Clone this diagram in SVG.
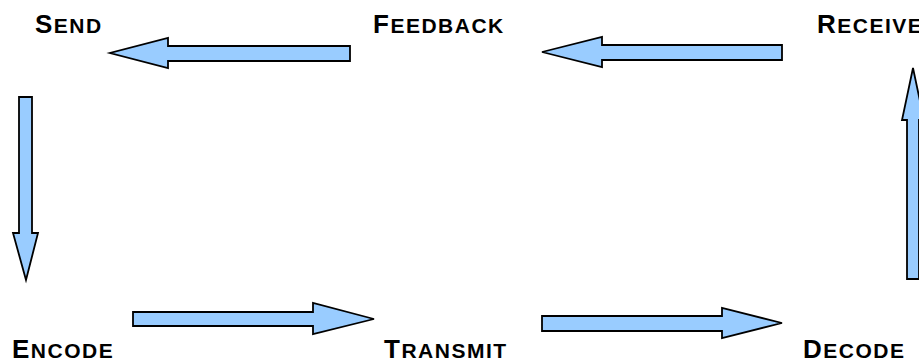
<svg xmlns="http://www.w3.org/2000/svg" width="919" height="363" viewBox="0 0 919 363">
<style>
.arrow{fill:#99ccff;stroke:#000;stroke-width:1.8;stroke-linejoin:miter}
.lbl{font-family:"Liberation Sans",Arial,sans-serif;font-weight:bold;fill:#000;font-size:26px;letter-spacing:1.5px}
.sc{font-size:21px}
</style>
<rect width="919" height="363" fill="#fff"/>
<g id="send"><text class="lbl" x="35" y="33">S<tspan class="sc">END</tspan></text></g>
<g id="feedback"><text class="lbl" x="373" y="33">F<tspan class="sc">EEDBACK</tspan></text></g>
<g id="receive"><text class="lbl" x="817" y="33">R<tspan class="sc">ECEIVE</tspan></text></g>
<g id="encode"><text class="lbl" x="12" y="358">E<tspan class="sc">NCODE</tspan></text></g>
<g id="transmit"><text class="lbl" x="384" y="358">T<tspan class="sc">RANSMIT</tspan></text></g>
<g id="decode"><text class="lbl" x="803" y="358">D<tspan class="sc">ECODE</tspan></text></g>
<g id="connectors">
<polygon class="arrow" points="350,46 168,46 168,38 110,53 168,68 168,61 350,61"/>
<polygon class="arrow" points="782,45 602,45 602,37 542,52 602,67 602,60 782,60"/>
<polygon class="arrow" points="19,97 32,97 32,233 38,233 26,280 13,233 19,233"/>
<polygon class="arrow" points="133,312 313,312 313,303 374,319 313,334 313,326 133,326"/>
<polygon class="arrow" points="542,316 722,316 722,308 782,323 722,338 722,331 542,331"/>
<polygon class="arrow" points="907,279 919,279 919,120 924,120 913,68 902,120 907,120"/>
</g>
</svg>
